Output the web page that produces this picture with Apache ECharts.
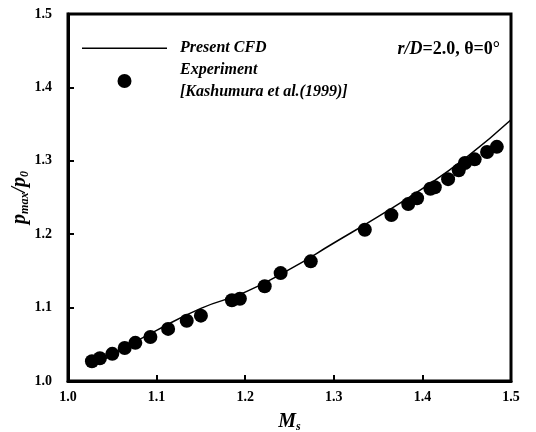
<!DOCTYPE html>
<html>
<head>
<meta charset="utf-8">
<script src="https://cdn.jsdelivr.net/npm/echarts@6/dist/echarts.min.js"></script>
<style>
  html, body { margin: 0; padding: 0; background: #fff; }
  #grafico { width: 536px; height: 432px; }
</style>
</head>
<body>
<div id="grafico"></div>
<script>
// Datos
const machCFD = [1.03, 1.05, 1.10, 1.15, 1.20, 1.25, 1.30, 1.35, 1.40, 1.45, 1.50];
const presionCFD = [1.022, 1.036, 1.069, 1.099, 1.121, 1.152, 1.188, 1.224, 1.262, 1.305, 1.356];

const machExp = [1.027, 1.036, 1.050, 1.064, 1.076, 1.093, 1.113, 1.134, 1.150, 1.185, 1.194,
                 1.222, 1.240, 1.274, 1.335, 1.365, 1.384, 1.394, 1.409, 1.414, 1.429, 1.441,
                 1.448, 1.459, 1.473, 1.484];
const presionExp = [1.027, 1.031, 1.037, 1.045, 1.052, 1.060, 1.071, 1.082, 1.089, 1.110, 1.112,
                    1.129, 1.147, 1.163, 1.206, 1.226, 1.241, 1.249, 1.262, 1.264, 1.275, 1.287,
                    1.297, 1.302, 1.312, 1.319];

const fuente = '"Liberation Serif", "DejaVu Serif", serif';

// icono de linea fina para la leyenda (puntos minimos arriba y abajo fijan la altura)
const iconoLinea = 'path://M0,0 L0.01,0 L0.01,0.01 Z M0,6.5 L85,6.5 L85,8 L0,8 Z M0,14 L0.01,14 L0.01,13.99 Z';

const grafico = echarts.init(document.getElementById('grafico'));

const opciones = {
    backgroundColor: '#ffffff',
    animation: false,
    grid: {
        left: 68, right: 25, top: 14, bottom: 51,
        outerBoundsMode: 'none',
        containLabel: false,
        show: true,
        borderColor: '#000',
        borderWidth: 3
    },
    legend: {
        orient: 'vertical',
        left: 82,
        top: 37,
        padding: 0,
        itemWidth: 85,
        itemHeight: 14,
        itemGap: 0,
        selectedMode: false,
        data: [
            { name: 'Present CFD', icon: iconoLinea },
            { name: 'Experiment\n[Kashumura et al.(1999)]', icon: 'circle' }
        ],
        textStyle: {
            fontFamily: fuente,
            fontWeight: 'bold',
            fontStyle: 'italic',
            fontSize: 16,
            lineHeight: 22,
            color: '#000',
            padding: [0, 0, 0, 8]
        }
    },
    graphic: [{
        type: 'text',
        right: 36,
        top: 40,
        style: {
            text: '{i|r/D}{n|=2.0, θ=0°}',
            rich: {
                i: { fontFamily: fuente, fontWeight: 'bold', fontStyle: 'italic', fontSize: 18, fill: '#000' },
                n: { fontFamily: fuente, fontWeight: 'bold', fontSize: 18, fill: '#000' }
            }
        }
    }],
    xAxis: {
        type: 'value',
        min: 1.0,
        max: 1.5,
        interval: 0.1,
        name: '{m|M}{s|s}',
        nameLocation: 'middle',
        nameGap: 30,
        nameTextStyle: {
            rich: {
                m: { fontFamily: fuente, fontWeight: 'bold', fontStyle: 'italic', fontSize: 20, color: '#000' },
                s: { fontFamily: fuente, fontWeight: 'bold', fontStyle: 'italic', fontSize: 12, color: '#000', padding: [10, 0, 0, 0] }
            }
        },
        axisLine: { lineStyle: { color: '#000', width: 3 } },
        axisTick: { inside: true, length: 6, lineStyle: { color: '#000', width: 2 } },
        splitLine: { show: false },
        axisLabel: {
            fontFamily: fuente, fontWeight: 'bold', fontSize: 14, color: '#000', margin: 9,
            formatter: v => v.toFixed(1)
        }
    },
    yAxis: {
        type: 'value',
        min: 1.0,
        max: 1.5,
        interval: 0.1,
        name: '{p|p}{s|max}{p|/p}{s|0}',
        nameLocation: 'middle',
        nameRotate: 90,
        nameGap: 37,
        nameMoveOverlap: false,
        nameTextStyle: {
            rich: {
                p: { fontFamily: fuente, fontWeight: 'bold', fontStyle: 'italic', fontSize: 20, color: '#000' },
                s: { fontFamily: fuente, fontWeight: 'bold', fontStyle: 'italic', fontSize: 12, color: '#000', padding: [10, 0, 0, 0] }
            }
        },
        axisLine: { lineStyle: { color: '#000', width: 3 } },
        axisTick: { inside: true, length: 6, lineStyle: { color: '#000', width: 2 } },
        splitLine: { show: false },
        axisLabel: {
            fontFamily: fuente, fontWeight: 'bold', fontSize: 14, color: '#000', margin: 16,
            formatter: v => v.toFixed(1)
        }
    },
    series: [
        {
            name: 'Present CFD',
            type: 'line',
            smooth: true,
            symbol: 'none',
            data: machCFD.map((m, i) => [m, presionCFD[i]]),
            lineStyle: { color: '#000', width: 1.5 },
            itemStyle: { color: '#000' },
            z: 2
        },
        {
            name: 'Experiment\n[Kashumura et al.(1999)]',
            type: 'scatter',
            symbol: 'circle',
            symbolSize: 14,
            data: machExp.map((m, i) => [m, presionExp[i]]),
            itemStyle: { color: '#000', opacity: 1 },
            z: 3
        }
    ]
};

grafico.setOption(opciones);
</script>
</body>
</html>
